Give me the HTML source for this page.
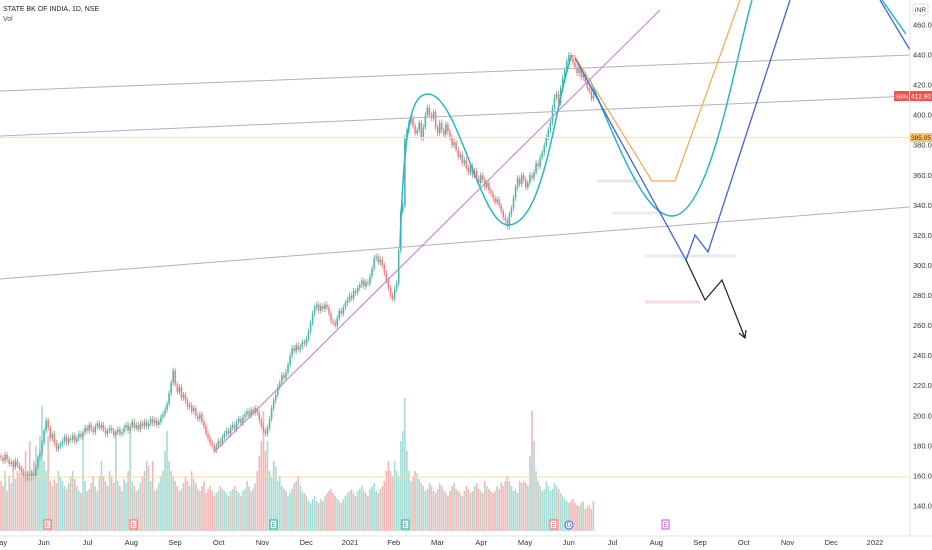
<!DOCTYPE html>
<html><head><meta charset="utf-8"><style>
body{margin:0;background:#fff;font-family:"Liberation Sans",sans-serif}
svg{display:block}
text{font-family:"Liberation Sans",sans-serif}
</style></head><body>
<svg id="c" width="932" height="550" viewBox="0 0 932 550">
<rect width="932" height="550" fill="#fff"/>
<g id="vol"></g>
<g id="candles"></g>
<g fill="none">
<line x1="0" y1="91" x2="910" y2="55" stroke="#b2b2b2"/>
<line x1="0" y1="136" x2="910" y2="96" stroke="#b2b2b2"/>
<line x1="0" y1="279" x2="910" y2="207" stroke="#b2b2b2"/>
<line x1="0" y1="137.5" x2="910" y2="137.5" stroke="#f8e2b8"/>
<line x1="0" y1="477" x2="910" y2="477" stroke="#f7dca8"/>
<line x1="214" y1="452" x2="660" y2="10" stroke="#b77fd6"/>
<line x1="597" y1="181" x2="640" y2="181" stroke="#e6e6e6" stroke-width="3"/>
<line x1="612" y1="213" x2="660" y2="213" stroke="#ececf4" stroke-width="3"/>
<line x1="645" y1="256" x2="735" y2="256" stroke="#e3e8f6" stroke-width="3"/>
<line x1="645" y1="302" x2="700" y2="302" stroke="#f6d8e0" stroke-width="3"/>
<path d="M400 247 C404 120 412 94 428 94 C458 94 480 225 508 225 C545 225 555 100 572 55" stroke="#2cb5c6" stroke-width="1.5"/>
<path d="M590 80 C620 150 645 216 672 216 C710 216 735 60 752 0" stroke="#2cb5c6" stroke-width="1.5"/>
<path d="M882 0 L906 34" stroke="#2cb5c6" stroke-width="1.5"/>
<path d="M575 58 L686 260 L695 235 L708 252 L790 0" stroke="#3f66d6" stroke-width="1.3"/>
<path d="M880 0 L910 50" stroke="#3f66d6" stroke-width="1.3"/>
<path d="M574 55 L652 181 L675 181 L740 0" stroke="#f5a94a" stroke-width="1.2"/>
<path d="M686 260 L705 300 L722 280 L745 338 M739 333 L745 338 L746 330" stroke="#222" stroke-width="1.2"/>
</g>
<g font-size="6" text-anchor="middle">
<rect x="44" y="520" width="7" height="9" fill="#fff" stroke="#f06060"/><text x="47.5" y="527" fill="#f06060">E</text>
<rect x="130" y="520" width="7" height="9" fill="#fff" stroke="#f06060"/><text x="133.5" y="527" fill="#f06060">E</text>
<rect x="270" y="520" width="7" height="9" fill="#fff" stroke="#26a69a"/><text x="273.5" y="527" fill="#26a69a">E</text>
<rect x="402" y="520" width="7" height="9" fill="#fff" stroke="#26a69a"/><text x="405.5" y="527" fill="#26a69a">E</text>
<rect x="550" y="520" width="7" height="9" fill="#fff" stroke="#f06060"/><text x="553.5" y="527" fill="#f06060">E</text>
<circle cx="569" cy="525" r="4" fill="#fff" stroke="#3f66d6"/><text x="569" y="527" fill="#3f66d6">D</text>
<rect x="662" y="520" width="7" height="9" fill="#fff" stroke="#d04bd0"/><text x="665.5" y="527" fill="#d04bd0">E</text>
</g>
<line x1="910" y1="0" x2="910" y2="536" stroke="#e0e3eb"/>
<line x1="0" y1="536" x2="932" y2="536" stroke="#e0e3eb"/>
<g id="yaxis" font-size="7.5" fill="#333"></g>
<g id="xaxis" font-size="7.5" fill="#333" text-anchor="middle"></g>
<rect x="913" y="4" width="15" height="11" rx="2" fill="#fff" stroke="#ddd"/>
<text x="920.5" y="12" font-size="6.5" text-anchor="middle" fill="#333">INR</text>
<rect x="894" y="91" width="15" height="10" fill="#ef5350"/>
<text x="901.5" y="98.5" font-size="5.5" text-anchor="middle" fill="#fff">SBIN</text>
<rect x="910" y="91" width="22" height="10" fill="#ef5350"/>
<text x="921" y="98.5" font-size="6.5" text-anchor="middle" fill="#fff">412.90</text>
<rect x="910" y="133" width="22" height="9" fill="#f7c46c"/>
<text x="921" y="140" font-size="6.5" text-anchor="middle" fill="#333">385.05</text>
<text x="3" y="11" font-size="7" fill="#222">STATE BK OF INDIA, 1D, NSE</text>
<text x="3" y="21" font-size="7" fill="#555">Vol</text>
</svg>
<script>
const closes=[172,170,174,171,168,169,166,170,167,165,
163,160,158,161,159,162,160,166,172,175,
182,190,197,192,185,188,182,178,180,181,
183,186,182,185,184,187,183,185,188,186,
189,192,190,194,191,189,193,195,192,194,
191,188,190,192,190,187,189,191,188,189,
192,194,190,193,196,192,194,191,195,193,
196,193,195,198,195,197,194,196,199,201,
204,208,215,222,230,221,216,219,212,214,
210,206,207,203,205,200,198,201,196,193,
188,185,182,180,177,180,183,182,186,188,
190,188,192,194,191,196,198,195,199,201,
203,200,204,202,205,202,197,193,190,188,
192,198,205,210,214,219,222,227,225,229,
234,240,245,243,247,244,246,249,248,251,
256,262,268,272,274,270,273,271,274,272,
268,263,262,260,265,270,268,272,275,277,
280,278,283,282,285,287,290,286,289,288,
293,298,305,306,302,304,300,295,290,285,
280,278,284,288,310,336,340,385,390,395,
398,393,388,390,395,385,392,400,405,400,
398,402,392,388,395,390,387,394,389,385,
380,382,377,372,374,368,370,365,362,366,
360,363,358,355,360,357,352,355,350,348,
345,342,344,340,336,332,330,326,334,338,
345,352,358,354,360,357,352,355,360,358,
362,368,366,372,375,380,385,390,395,405,
412,414,408,418,425,430,436,440,438,435,
432,428,431,425,427,422,418,416,411,413];
const volumes=[50,45,60,40,55,48,70,52,60,58,
65,55,80,60,90,60,70,85,75,95,
125,70,60,95,50,45,52,48,60,55,
50,45,42,48,55,60,52,45,40,38,
95,50,40,42,48,55,45,40,55,70,
55,50,45,60,55,48,100,50,45,40,
52,48,60,100,50,45,40,42,48,55,
60,70,65,50,70,40,42,48,55,60,
80,100,70,60,55,50,45,40,42,48,
55,50,45,60,52,48,42,40,45,50,
38,42,45,40,35,38,40,45,42,40,
38,35,40,42,45,40,38,35,40,42,
50,45,40,42,48,60,75,90,120,80,
90,60,55,70,65,50,55,45,42,40,
35,38,42,48,50,55,45,40,38,35,
30,28,32,35,30,28,32,30,35,38,
40,42,38,35,32,30,28,32,35,38,
40,42,38,35,40,42,45,40,38,35,
42,45,48,40,38,42,45,50,60,70,
60,55,70,60,55,90,100,133,80,60,
50,55,60,58,52,48,45,40,42,48,
45,40,38,42,48,45,40,38,35,40,
45,48,42,40,38,35,40,45,42,38,
40,45,48,42,40,38,50,45,42,40,
38,40,45,42,48,45,50,55,50,45,
40,42,38,50,48,50,48,45,75,120,
90,60,50,45,40,42,50,45,40,42,
48,45,42,38,35,32,30,28,30,32,
28,26,25,28,30,22,24,26,22,30];
const priceTicks=[460,440,420,400,380,360,340,320,300,280,260,240,220,200,180,160,140];
const timeLabels=["May","Jun","Jul","Aug","Sep","Oct","Nov","Dec","2021","Feb","Mar","Apr","May","Jun","Jul","Aug","Sep","Oct","Nov","Dec","2022"];
const timeLabelMonthIndex=[0,1,2,3,4,5,6,7,8,9,10,11,12,13,14,15,16,17,18,19,20];

const NS="http://www.w3.org/2000/svg";
function y(p){return 25+(460-p)*1.503;}
function x(i){return 1+i*2.05;}
function monthX(m){return m*43.75;}
function vy(v){return 531-v;}
function mk(tag,attrs,parent){const e=document.createElementNS(NS,tag);for(const k in attrs)e.setAttribute(k,attrs[k]);parent.appendChild(e);return e;}

const cg=document.getElementById('candles'),vg=document.getElementById('vol');
for(let i=0;i<closes.length;i++){
  const c=closes[i],o=i?closes[i-1]:c+1;
  const up=c>=o;
  const col=up?'#4cb8a8':'#f07f7f';
  const hi=Math.max(o,c)+2,lo=Math.min(o,c)-2;
  const w=mk('line',{x1:x(i),x2:x(i),y1:y(hi),y2:y(lo),stroke:col,'stroke-width':0.8},cg);
  
  
  const top=y(Math.max(o,c)),h=Math.max(1,y(Math.min(o,c))-top);
  const b=mk('rect',{x:x(i)-0.8,y:top,width:1.6,height:h,fill:col},cg);
  
  
  const v=volumes[i];
  const r=mk('rect',{x:x(i)-0.8,y:vy(v),width:1.6,height:v,fill:up?'#a6dcd3':'#f6b6b4'},vg);
  
  
}
const ya=document.getElementById('yaxis');
priceTicks.forEach(p=>{const t=mk('text',{x:913,y:y(p)+2.5},ya);t.textContent=p.toFixed(2);
  
  });
const xa=document.getElementById('xaxis');
timeLabels.forEach((l,k)=>{const t=mk('text',{x:monthX(timeLabelMonthIndex[k]),y:545},xa);t.textContent=l;
  
  });
</script>
</body></html>
